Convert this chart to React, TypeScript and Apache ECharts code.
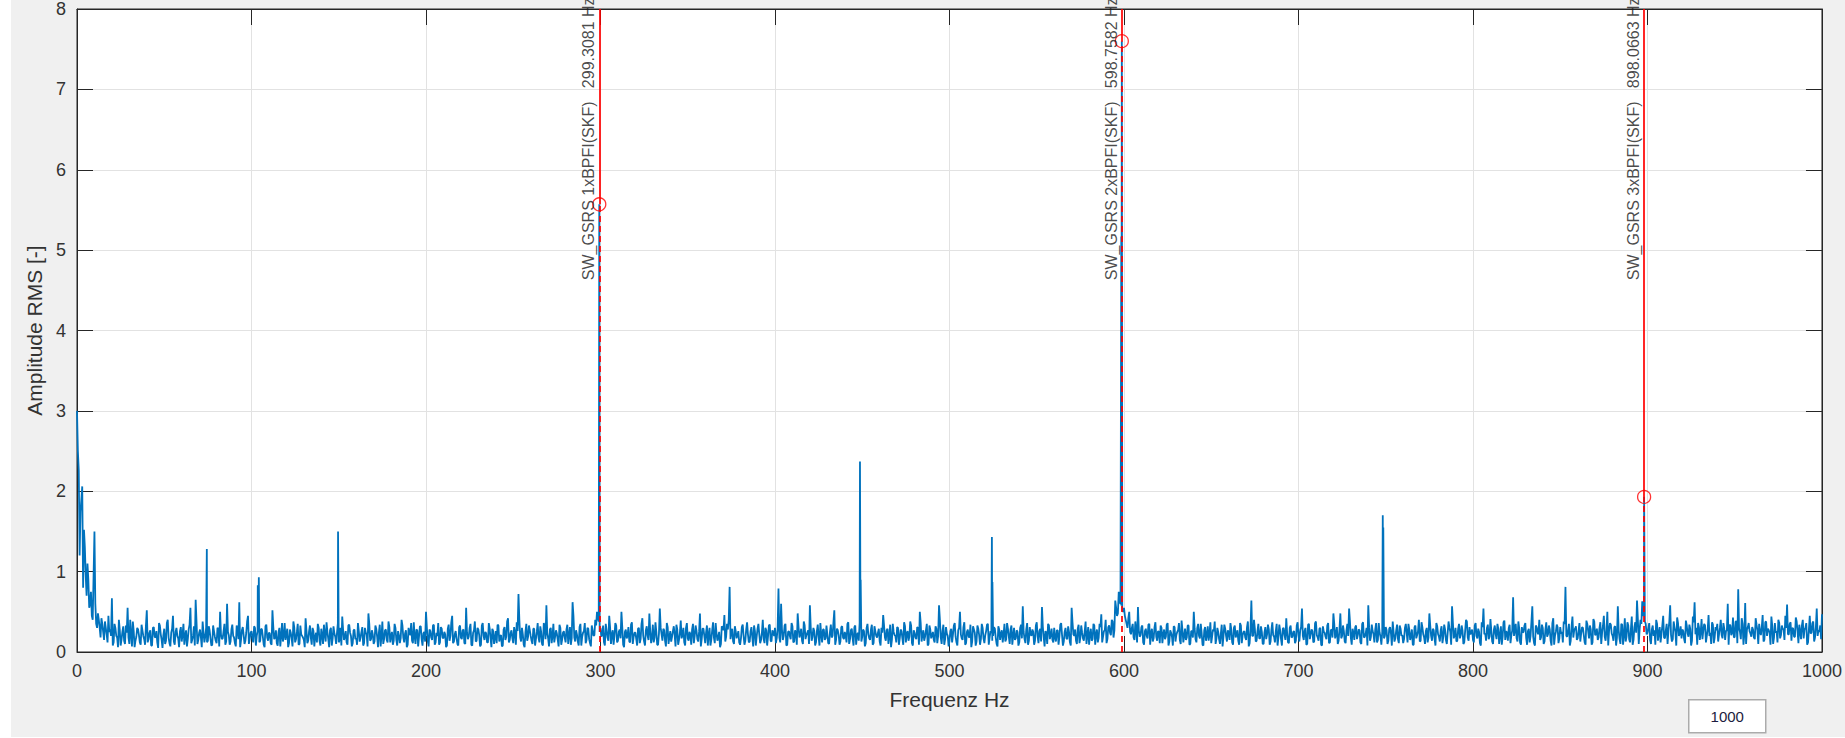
import React, { useEffect, useRef } from 'react';
import * as echarts from 'echarts';

// Axis ranges / ticks
const FREQ_MIN = 0;
const FREQ_MAX = 1000;
const FREQ_STEP = 100;
const AMP_MIN = 0;
const AMP_MAX = 8;
const AMP_STEP = 1;
const BIN_HZ = 1;

// Spectrum amplitude (x100) at whole-Hz bins, 0 .. 1000 Hz
const spectrumCenti = [
  300,226,175,206,152,95,110,55,75,40,150,35,48,30,42,25,38,22,45,28, // 0
  67,12,30,18,40,8,25,14,33,55,10,22,38,6,19,28,12,34,20,9, // 20
  52,16,27,8,31,18,12,36,22,5,29,14,40,11,24,45,9,30,17,26, // 40
  13,35,20,7,28,55,15,32,65,10,24,18,38,12,30,14,27,8,33,19, // 60
  11,29,50,16,26,9,60,21,13,34,18,7,28,62,15,31,10,24,45,17, // 80
  26,12,30,20,35,14,28,9,32,18,24,11,52,16,27,8,30,20,13,36, // 100
  22,6,28,17,38,12,25,9,33,20,15,42,11,26,18,30,7,24,35,14, // 120
  29,10,22,37,16,27,8,32,19,24,12,30,44,15,26,9,34,20,11,28, // 140
  17,36,13,25,8,30,22,48,14,27,10,33,19,24,7,38,16,28,12,31, // 160
  20,9,35,15,26,11,40,18,23,6,30,21,14,37,10,27,19,32,8,25, // 180
  50,14,28,18,33,9,24,36,12,29,17,22,8,34,20,45,13,26,10,31, // 200
  18,27,11,55,16,30,9,24,38,14,28,7,33,20,25,12,36,17,29,10, // 220
  26,34,13,21,8,31,19,42,15,27,11,24,37,72,18,30,9,25,14,33, // 240
  20,10,29,16,36,12,25,8,32,58,17,28,11,35,19,23,7,30,15,26, // 260
  12,34,21,9,62,18,27,13,31,8,24,36,15,29,11,33,20,40,50,38, // 280
  30,22,12,35,18,45,10,27,20,33,14,28,50,9,25,17,31,12,37,19, // 300
  24,8,30,16,42,13,27,20,48,11,34,18,25,9,54,22,29,14,36,10, // 320
  26,19,32,7,28,15,39,21,12,30,17,25,9,35,20,27,13,48,16,29, // 340
  11,33,22,8,27,18,36,14,25,10,30,46,19,28,81,24,13,32,17,26, // 360
  9,31,20,14,37,12,26,18,33,8,29,22,15,40,11,27,19,34,13,24, // 380
  30,17,79,12,28,20,35,9,26,16,32,13,24,48,18,29,10,33,21,27, // 400
  58,14,30,8,26,19,36,12,28,17,22,10,34,20,52,15,27,9,31,18, // 420
  25,12,37,16,29,8,33,21,14,30,19,26,11,35,17,28,9,32,20,24, // 440
  13,30,46,18,27,10,34,15,25,20,31,9,28,17,37,12,26,19,33,8, // 460
  24,16,30,50,13,27,19,35,10,28,21,15,32,11,58,18,26,9,31,20, // 480
  14,29,22,36,12,27,50,17,31,9,25,19,34,13,28,8,33,21,16,30, // 500
  11,26,35,18,24,20,29,10,32,15,27,22,13,36,19,28,9,30,17,25, // 520
  12,34,57,16,28,9,31,20,25,14,37,11,29,56,18,26,10,33,21,15, // 540
  30,13,27,19,36,8,25,17,32,12,55,22,28,10,34,18,24,14,38,20, // 560
  9,29,16,33,22,12,35,47,19,27,11,31,24,40,18,64,45,75,60,52, // 580
  55,40,30,50,22,35,15,28,56,19,31,12,26,20,34,9,29,17,37,14, // 600
  25,33,11,28,19,36,13,24,8,31,21,27,15,39,12,29,18,33,10,26, // 620
  50,16,30,20,35,9,27,14,32,22,11,28,38,17,25,10,34,19,29,13, // 640
  24,36,12,30,18,27,9,33,21,26,15,38,11,64,20,29,14,35,17,25, // 660
  10,31,22,28,13,37,19,26,8,34,16,29,21,42,12,30,18,25,11,33, // 680
  20,27,54,15,30,10,35,22,26,13,38,18,29,9,32,24,16,36,12,28, // 700
  48,17,31,14,48,20,26,11,35,54,18,29,15,33,21,27,10,37,19,30, // 720
  58,14,34,22,28,12,36,19,25,17,31,10,29,23,38,13,27,16,33,20, // 740
  11,30,24,35,15,28,9,33,21,40,14,31,18,26,12,48,20,29,16,36, // 760
  22,13,32,19,28,10,38,25,57,17,30,14,35,21,27,12,40,18,31,24, // 780
  15,33,20,29,11,37,54,23,30,16,41,13,28,22,35,10,32,19,39,26, // 800
  14,34,21,68,27,17,38,12,31,25,36,9,29,20,57,11,33,24,40,18, // 820
  30,13,37,22,28,8,42,20,34,11,31,25,38,81,19,35,14,44,27,32, // 840
  17,36,23,30,12,39,26,33,9,41,21,29,18,37,24,45,14,50,27,34, // 860
  20,31,8,57,16,35,9,42,19,33,12,44,15,37,64,10,40,63,48,35, // 880
  24,36,10,33,27,40,14,31,22,45,17,35,26,58,13,38,25,43,20,32, // 900
  28,16,39,23,34,8,44,62,30,36,15,41,27,33,20,46,24,37,11,31, // 920
  35,22,40,17,29,26,60,34,21,43,19,38,78,25,42,9,61,28,36,23, // 940
  31,18,42,27,35,21,46,15,38,29,24,44,10,36,26,40,17,33,28,45, // 960
  59,22,37,30,19,43,26,34,16,40,28,36,12,45,24,38,18,54,27,33, // 980
  47, // 1000
];

// Spectrum amplitude (x100) at half-Hz bins, 0.5 .. 999.5 Hz
const halfBinCenti = [
  250,120,190,80,130,70,90,60,45,95,60,30,40,18,35,15,30,12,25,20, // 0.5
  8,35,20,6,28,15,32,10,24,18,40,7,26,14,30,21,9,27,16,33, // 20.5
  12,24,8,30,19,26,5,33,15,21,10,36,18,7,29,13,25,20,6,31, // 40.5
  22,9,27,16,34,11,20,8,37,15,28,6,24,19,12,32,17,9,26,14, // 60.5
  30,7,22,17,35,13,25,9,28,20,11,33,16,6,27,21,14,38,10,24, // 80.5
  17,32,8,26,12,29,19,6,34,14,23,9,31,18,11,25,7,36,20,15, // 100.5
  29,11,24,7,31,16,35,10,22,18,6,27,14,33,9,26,19,12,30,8, // 120.5
  21,34,13,25,6,30,17,23,10,36,15,8,28,19,12,33,24,7,27,16, // 140.5
  9,26,18,31,11,24,7,35,16,22,13,29,6,34,20,10,27,15,38,12, // 160.5
  25,14,30,8,21,17,33,12,27,9,24,36,11,19,28,7,32,16,23,13, // 180.5
  30,7,26,15,34,12,20,9,31,18,25,6,29,14,37,11,22,17,8,33, // 200.5
  16,28,10,24,19,35,8,27,13,30,21,9,36,15,23,12,29,6,26,18, // 220.5
  11,33,20,7,28,15,38,12,24,17,31,9,26,40,13,22,6,35,19,27, // 240.5
  14,29,8,25,18,32,10,36,16,23,7,30,20,12,27,15,34,9,24,18, // 260.5
  28,10,31,17,45,13,22,8,35,19,26,11,30,16,7,27,21,33,42,25, // 280.5
  19,33,8,27,14,31,22,9,36,12,25,17,30,6,28,20,13,34,10,24, // 300.5
  16,29,11,35,20,8,32,15,26,18,12,37,9,23,30,14,27,7,31,19, // 320.5
  13,26,21,34,9,24,17,30,8,36,14,22,28,11,33,16,25,7,29,20, // 340.5
  24,8,30,15,37,11,23,19,6,32,27,13,35,40,16,29,10,26,21,12, // 360.5
  17,34,9,28,22,13,31,7,26,19,35,11,24,16,30,8,33,14,27,20, // 380.5
  11,29,18,60,15,33,8,25,20,36,12,27,9,31,22,14,38,16,24,10, // 400.5
  30,19,26,12,34,8,22,28,15,33,11,25,18,37,9,29,21,13,32,16, // 420.5
  20,35,10,27,17,31,9,24,36,13,28,7,30,22,15,34,11,26,18,29, // 440.5
  8,24,33,14,29,19,6,35,21,12,30,17,26,9,32,23,14,38,11,27, // 460.5
  18,31,9,36,22,14,27,8,33,17,25,12,29,20,40,10,34,16,23,7, // 480.5
  26,12,33,19,8,30,22,15,37,11,28,18,6,32,24,13,29,9,35,17, // 500.5
  21,34,9,26,14,31,18,7,28,23,12,35,16,29,10,33,20,15,27,8, // 520.5
  30,17,25,11,36,14,22,28,9,33,19,26,13,31,7,24,35,16,29,12, // 540.5
  18,27,9,34,21,13,30,16,25,8,37,20,14,29,11,33,17,26,10,31, // 560.5
  22,14,35,9,28,18,31,12,26,40,16,33,21,38,27,55,48,62,58,50, // 580.5
  45,35,42,25,30,18,38,12,27,21,33,9,29,17,35,24,13,31,19,26, // 600.5
  11,30,22,16,34,8,27,19,32,13,25,36,10,28,20,15,33,9,26,18, // 620.5
  29,12,35,17,24,8,31,21,14,37,19,26,10,30,16,23,7,34,20,27, // 640.5
  15,28,9,33,22,14,36,11,25,18,31,7,29,20,40,13,26,17,32,10, // 660.5
  24,16,34,9,28,21,12,35,18,27,8,30,15,24,11,33,19,26,14,37, // 680.5
  13,31,20,26,9,34,16,28,12,36,21,14,30,8,25,19,33,11,27,18, // 700.5
  35,22,10,29,17,33,13,27,20,38,9,24,31,16,28,12,35,18,23,8, // 720.5
  30,19,26,12,36,15,24,9,33,20,27,14,31,8,25,17,34,11,29,21, // 740.5
  16,35,12,28,20,9,31,17,26,13,37,22,10,30,18,33,14,27,8,32, // 760.5
  19,27,11,34,15,24,30,9,36,21,13,29,17,33,10,26,38,14,22,28, // 780.5
  12,36,17,25,8,31,22,14,34,19,27,10,33,16,29,21,9,37,15,24, // 800.5
  30,11,27,20,35,13,29,9,24,33,17,26,12,38,19,8,31,22,15,34, // 820.5
  10,28,19,33,14,36,9,25,31,17,23,12,35,20,27,8,32,18,29,15, // 840.5
  26,13,31,21,9,35,17,28,12,38,22,15,30,10,33,19,27,8,36,23, // 860.5
  14,32,18,27,10,34,21,13,37,16,29,9,31,24,40,28,35,45,38,22, // 880.5
  30,15,28,20,9,35,24,12,33,18,27,10,38,21,16,31,8,36,23,17, // 900.5
  26,11,33,19,29,14,37,22,9,31,25,16,35,12,28,20,10,34,18,27, // 920.5
  13,30,21,36,15,27,9,33,24,18,38,11,29,16,35,22,10,31,26,19, // 940.5
  28,16,34,10,25,31,13,37,20,27,9,33,18,24,12,36,21,29,15,30, // 960.5
  22,35,14,29,19,38,11,26,33,17,30,9,28,23,36,13,31,20,25,16, // 980.5
];

// Narrow spectral lines falling between bins
const peakFreqs = [74.4, 103.6, 104.2, 149.6, 299.3081, 448.7, 449.1, 524.3, 524.6, 598.45, 598.7582, 748.3, 748.6, 898.0663];
const peakAmps = [1.28, 0.83, 0.93, 1.5, 5.57, 2.37, 0.9, 1.43, 0.87, 5.17, 7.6, 1.7, 1.55, 1.93];

// Fault-frequency markers
const markerFreqs = [299.3081, 598.7582, 898.0663];
const markerAmps = [5.57, 7.6, 1.93];
const markerLabels = [
  'SW_GSRS 1xBPFI(SKF)   299.3081 Hz',
  'SW_GSRS 2xBPFI(SKF)   598.7582 Hz',
  'SW_GSRS 3xBPFI(SKF)   898.0663 Hz',
];
const markerLabelY = 4.62;

const xAxisName = 'Frequenz Hz';
const yAxisName = 'Amplitude RMS [-]';
const boxValue = '1000';

const FONT = '"Liberation Sans", Arial, Helvetica, sans-serif';
const AXIS_COLOR = '#262626';
const TEXT_COLOR = '#333333';

export default function App() {
  const ref = useRef<HTMLDivElement>(null);

  useEffect(() => {
    if (!ref.current) return;
    const chart = echarts.init(ref.current, undefined, { renderer: 'svg' });

    const spectrum = spectrumCenti
      .map((v, i) => [i * BIN_HZ, v / 100])
      .concat(halfBinCenti.map((v, i) => [(i + 0.5) * BIN_HZ, v / 100]))
      .concat(peakFreqs.map((f, i) => [f, peakAmps[i]]))
      .sort((a, b) => a[0] - b[0]);

    const lineData: any[] = [];
    markerFreqs.forEach((f, i) => {
      lineData.push([
        { coord: [f, markerAmps[i]], lineStyle: { type: 'solid', color: '#ff0000', width: 1.7 } },
        { coord: [f, AMP_MAX] },
      ]);
      lineData.push([
        { coord: [f, AMP_MIN], lineStyle: { type: [6, 4], color: '#ff0000', width: 1.7 } },
        { coord: [f, markerAmps[i]] },
      ]);
    });

    const axisCommon = {
      axisLine: { show: true, onZero: false, lineStyle: { color: AXIS_COLOR, width: 1 } },
      axisTick: { show: true, inside: true, length: 16, lineStyle: { color: AXIS_COLOR, width: 1 } },
    };

    const option: any = {
      animation: false,
      backgroundColor: '#f0f0f0',
      textStyle: { fontFamily: FONT },
      grid: {
        left: 66,
        top: 4,
        width: 1746,
        height: 648,
        show: true,
        backgroundColor: '#ffffff',
        borderColor: AXIS_COLOR,
        borderWidth: 1,
      },
      xAxis: [
        {
          type: 'value',
          min: FREQ_MIN,
          max: FREQ_MAX,
          interval: FREQ_STEP,
          position: 'bottom',
          ...axisCommon,
          axisLabel: {
            fontSize: 18,
            color: TEXT_COLOR,
            margin: 10,
            fontFamily: FONT,
            formatter: (v: number) => String(v),
          },
          splitLine: { show: true, lineStyle: { color: '#e2e2e2', width: 1 } },
          name: xAxisName,
          nameLocation: 'middle',
          nameGap: 37,
          nameTextStyle: { fontSize: 21, color: TEXT_COLOR, fontFamily: FONT },
        },
        {
          type: 'value',
          min: FREQ_MIN,
          max: FREQ_MAX,
          interval: FREQ_STEP,
          position: 'top',
          ...axisCommon,
          axisLabel: { show: false },
          splitLine: { show: false },
        },
      ],
      yAxis: [
        {
          type: 'value',
          min: AMP_MIN,
          max: AMP_MAX,
          interval: AMP_STEP,
          position: 'left',
          ...axisCommon,
          axisLabel: {
            fontSize: 18,
            color: TEXT_COLOR,
            margin: 11,
            fontFamily: FONT,
            formatter: (v: number) => String(v),
          },
          splitLine: { show: true, lineStyle: { color: '#e2e2e2', width: 1 } },
          name: yAxisName,
          nameLocation: 'middle',
          nameGap: 30,
          nameTextStyle: { fontSize: 21, color: TEXT_COLOR, fontFamily: FONT },
        },
        {
          type: 'value',
          min: AMP_MIN,
          max: AMP_MAX,
          interval: AMP_STEP,
          position: 'right',
          ...axisCommon,
          axisLabel: { show: false },
          splitLine: { show: false },
        },
      ],
      series: [
        {
          type: 'line',
          name: 'spectrum',
          data: spectrum,
          showSymbol: false,
          symbol: 'none',
          lineStyle: { color: '#0072BD', width: 1.8 },
          z: 2,
          silent: true,
        },
        {
          type: 'scatter',
          name: 'markers',
          data: markerFreqs.map((f, i) => [f, markerAmps[i]]),
          symbol: 'circle',
          symbolSize: 13,
          itemStyle: { color: 'rgba(0,0,0,0)', borderColor: '#ff0000', borderWidth: 1.3 },
          z: 6,
          silent: true,
          markLine: {
            silent: true,
            symbol: ['none', 'none'],
            label: { show: false },
            z: 5,
            data: lineData,
          },
        },
        {
          type: 'scatter',
          name: 'labels',
          data: markerFreqs.map((f) => [f, markerLabelY]),
          symbol: 'rect',
          symbolSize: 1,
          itemStyle: { color: 'rgba(0,0,0,0)' },
          z: 7,
          silent: true,
          label: {
            show: true,
            formatter: (p: any) => markerLabels[p.dataIndex],
            rotate: 90,
            position: [-2, 0],
            align: 'left',
            verticalAlign: 'bottom',
            fontSize: 16,
            color: '#1a1a1a',
            fontFamily: FONT,
          },
        },
      ],
      graphic: [
        {
          type: 'group',
          left: 1677,
          top: 699,
          children: [
            {
              type: 'rect',
              shape: { x: 0, y: 0, width: 77, height: 33 },
              style: { fill: '#ffffff', stroke: '#ababab', lineWidth: 1.5 },
            },
            {
              type: 'text',
              x: 38.5,
              y: 17,
              style: {
                text: boxValue,
                fill: '#1c1c40',
                fontSize: 15,
                fontFamily: FONT,
                align: 'center',
                verticalAlign: 'middle',
              },
            },
          ],
        },
      ],
    };

    chart.setOption(option);
    return () => chart.dispose();
  }, []);

  return (
    <div style={{ position: 'fixed', left: 0, top: 0, width: 1845, height: 738, background: '#ffffff' }}>
      <div ref={ref} style={{ position: 'absolute', left: 11, top: 0, width: 1834, height: 737 }} />
    </div>
  );
}
